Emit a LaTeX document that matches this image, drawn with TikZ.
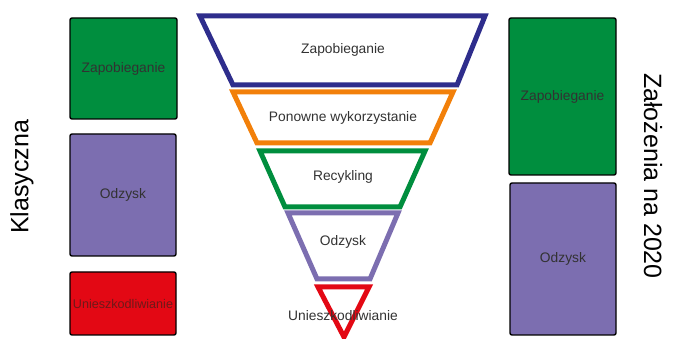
\documentclass[tikz,border=0pt]{standalone}
\usepackage{fontspec}
\setmainfont{Liberation Sans}

\definecolor{navyline}{RGB}{46,45,140}
\definecolor{orangeline}{RGB}{242,128,10}
\definecolor{greenfill}{RGB}{0,142,62}
\definecolor{lavender}{RGB}{124,110,176}
\definecolor{redfill}{RGB}{227,8,20}
\definecolor{boxtext}{RGB}{50,50,50}

\begin{document}
\begin{tikzpicture}[x=1pt,y=-1pt]
\useasboundingbox (0,0) rectangle (673,339);

% columns of boxes
\begin{scope}[every node/.style={draw=black,line width=1.4pt,rounded corners=2pt,
                                 text=boxtext,font=\fontsize{13.8}{16}\selectfont}]
    \node[fill=greenfill,minimum width=107pt,minimum height=101pt] (zapL) at (123.5,68.5) {Zapobieganie};
    \node[fill=lavender, minimum width=106pt,minimum height=122pt] (odzL) at (123,195)    {Odzysk};
    \node[fill=redfill,  minimum width=106pt,minimum height=63pt,inner sep=0pt,
          text={rgb,255:red,110;green,25;blue,25},font=\fontsize{12.6}{15}\selectfont]
                                                                   (uniL) at (123,303.5)  {Unieszkodliwianie};

    \node[fill=greenfill,minimum width=107pt,minimum height=157pt] (zapR) at (562.5,96.5) {Zapobieganie};
    \node[fill=lavender, minimum width=106pt,minimum height=152pt] (odzR) at (563,259)    {Odzysk};
\end{scope}

% side titles
\begin{scope}[every node/.style={font=\fontsize{25}{30}\selectfont}]
    \node[rotate=90]  (klas) at (22,177)  {Klasyczna};
    \node[rotate=-90] (zal)  at (653,176) {Założenia na 2020};
\end{scope}

% funnel
\begin{scope}[line width=5pt,line join=miter]
    \draw[navyline]   (200,16)  -- (485,16)  -- (457,85)  -- (233,85)  -- cycle;
    \draw[orangeline] (233,92)  -- (453,92)  -- (430,143) -- (257,143) -- cycle;
    \draw[greenfill]  (260,151) -- (425,151) -- (400,207) -- (285,207) -- cycle;
    \draw[lavender]   (288,213) -- (398,213) -- (370,279) -- (317,279) -- cycle;
    \draw[redfill]    (318,287) -- (369,287) -- (344,337) -- cycle;
\end{scope}

\begin{scope}[every node/.style={text=boxtext,font=\fontsize{13.8}{16}\selectfont}]
    \node (zapF) at (343,50)  {Zapobieganie};
    \node (ponF) at (343,118) {Ponowne wykorzystanie};
    \node (recF) at (343,177) {Recykling};
    \node (odzF) at (343,242) {Odzysk};
    \node (uniF) at (343,316) {Unieszkodliwianie};
\end{scope}
\end{tikzpicture}
\end{document}
